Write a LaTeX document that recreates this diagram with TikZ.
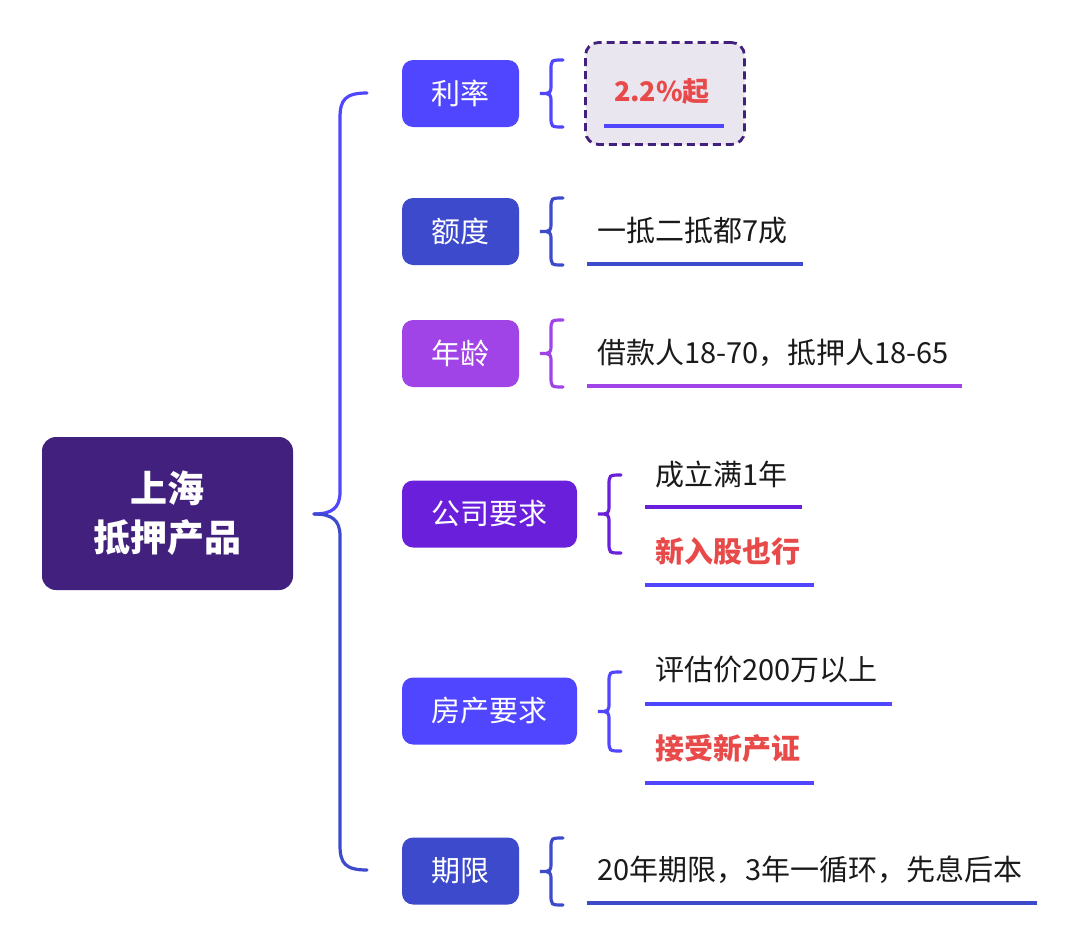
\documentclass[tikz,border=0pt]{standalone}
\usepackage{fontspec}
\setmainfont{Noto Sans CJK SC}
\definecolor{cCenter}{HTML}{41217D}
\definecolor{cBlue}{HTML}{5046FF}
\definecolor{cNavy}{HTML}{3D4ACB}
\definecolor{cLilac}{HTML}{A044E8}
\definecolor{cViolet}{HTML}{6A1FDB}
\definecolor{cRed}{HTML}{E84A4A}
\definecolor{cBoxFill}{HTML}{EAE6F0}
\definecolor{cText}{HTML}{1A1A1A}
\tikzset{
  catbox/.style={rounded corners=11pt, text=white, minimum height=67pt, inner sep=0pt, font=\fontsize{29}{32}\selectfont},
  leaf/.style={anchor=west, inner sep=0pt, text=cText, font=\fontsize{29}{32}\selectfont},
  redleaf/.style={anchor=west, inner sep=0pt, text=cRed, font=\fontsize{29}{32}\selectfont\bfseries},
  uline/.style={line width=3.2pt},
  bracestyle/.style={line width=3.2pt, line cap=round}
}
\newcommand\mysmallbrace[4]{% right x, top y, bottom y, colour
  \draw[bracestyle,#4] (#1,#2) .. controls (#1-12,#2) .. (#1-12,#2+11)
     -- (#1-12,{(#2+#3)/2-10}) .. controls (#1-12,{(#2+#3)/2}) .. (#1-23,{(#2+#3)/2})
     .. controls (#1-12,{(#2+#3)/2}) .. (#1-12,{(#2+#3)/2+10})
     -- (#1-12,#3-11) .. controls (#1-12,#3) .. (#1,#3);
}
\begin{document}
\begin{tikzpicture}[x=1pt,y=-1pt]
\useasboundingbox[fill=white] (0,0) rectangle (1080,948);

% centre
\node[fill=cCenter, rounded corners=14pt, minimum width=251pt, minimum height=153pt, text=white,
  align=center, font=\fontsize{37}{49}\selectfont\bfseries] (center) at (167.5,513.5) {上海\\抵押产品};

% main brace
\coordinate (btop) at (367,93);
\coordinate (btip) at (314,514);
\coordinate (bbot) at (367,870);
\draw[bracestyle,cBlue] (btop) .. controls (345,93) and (340,100) .. (340,118) -- (340,492)
   .. controls (340,508) and (332,514) .. (btip);
\draw[bracestyle,cNavy] (btip) .. controls (332,514) and (340,520) .. (340,536) -- (340,845)
   .. controls (340,863) and (345,870) .. (bbot);

% categories
\node[catbox, fill=cBlue,   minimum width=117pt] (c1) at (460.5,93.5)  {利率};
\node[catbox, fill=cNavy,   minimum width=117pt] (c2) at (460.5,231.5) {额度};
\node[catbox, fill=cLilac,  minimum width=117pt] (c3) at (460.5,353.5) {年龄};
\node[catbox, fill=cViolet, minimum width=175pt] (c4) at (489.5,514)   {公司要求};
\node[catbox, fill=cBlue,   minimum width=175pt] (c5) at (489.5,711)   {房产要求};
\node[catbox, fill=cNavy,   minimum width=117pt] (c6) at (460.5,871)   {期限};

% small braces
\mysmallbrace{563}{60}{127}{cBlue}
\mysmallbrace{563}{198}{265}{cNavy}
\mysmallbrace{563}{320}{387}{cLilac}
\mysmallbrace{621}{475}{553}{cViolet}
\mysmallbrace{621}{672}{751}{cBlue}
\mysmallbrace{563}{838}{905}{cNavy}

% leaf 1: dashed box
\node[draw=cCenter, fill=cBoxFill, dash pattern=on 8pt off 5pt, line width=2.8pt,
  rounded corners=13pt, minimum width=159pt, minimum height=102pt] (rbox) at (665,93.5) {};
\node[inner sep=0pt, text=cRed, font=\fontsize{27}{30}\selectfont\bfseries] (r1) at (662,92) {2.2\%起};
\coordinate (u1a) at (604,126); \coordinate (u1b) at (724,126);
\draw[uline,cBlue] (u1a) -- (u1b);

% leaf 2
\node[leaf] (l2) at (597,231) {一抵二抵都7成};
\coordinate (u2a) at (587,264); \coordinate (u2b) at (803,264);
\draw[uline,cNavy] (u2a) -- (u2b);

% leaf 3
\node[leaf] (l3) at (597,353) {借款人18-70，抵押人18-65};
\coordinate (u3a) at (587,386); \coordinate (u3b) at (962,386);
\draw[uline,cLilac] (u3a) -- (u3b);

% leaf 4
\node[leaf] (l4a) at (655,474) {成立满1年};
\coordinate (u4a) at (645,507); \coordinate (u4b) at (802,507);
\draw[uline,cViolet] (u4a) -- (u4b);
\node[redleaf] (l4b) at (655,551) {新入股也行};
\coordinate (u4c) at (645,585); \coordinate (u4d) at (814,585);
\draw[uline,cBlue] (u4c) -- (u4d);

% leaf 5
\node[leaf] (l5a) at (655,670) {评估价200万以上};
\coordinate (u5a) at (645,704); \coordinate (u5b) at (892,704);
\draw[uline,cBlue] (u5a) -- (u5b);
\node[redleaf] (l5b) at (655,749) {接受新产证};
\coordinate (u5c) at (645,783); \coordinate (u5d) at (814,783);
\draw[uline,cBlue] (u5c) -- (u5d);

% leaf 6
\node[leaf] (l6) at (597,870) {20年期限，3年一循环，先息后本};
\coordinate (u6a) at (587,903); \coordinate (u6b) at (1037,903);
\draw[uline,cNavy] (u6a) -- (u6b);
\end{tikzpicture}
\end{document}
